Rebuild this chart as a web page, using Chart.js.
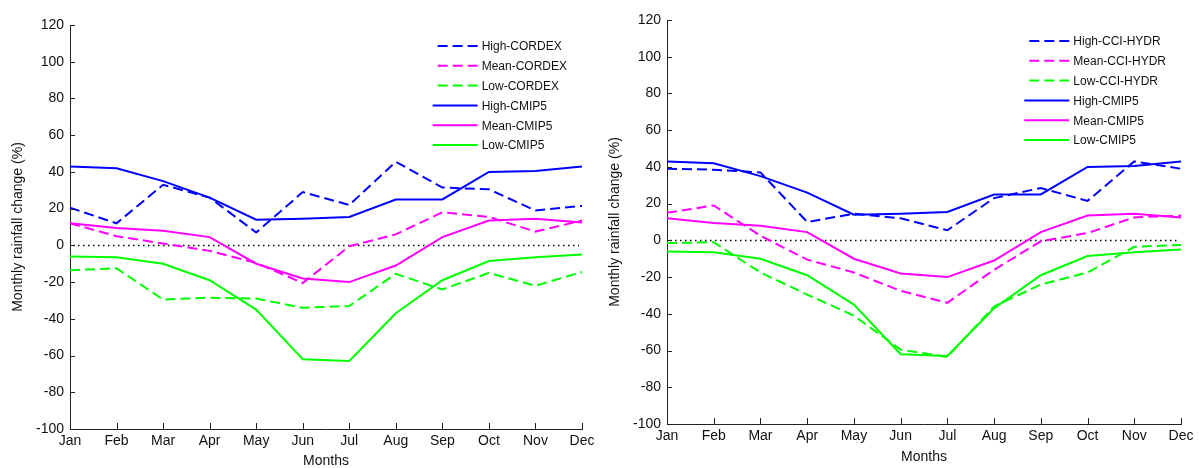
<!DOCTYPE html>
<html>
<head>
<meta charset="utf-8">
<script src="https://cdn.jsdelivr.net/npm/chart.js@4.4.0/dist/chart.umd.min.js"></script>
<style>
  body { margin: 0; background: #fff; }
  #wrap { position: relative; width: 1199px; height: 468px; }
  #cordexChart { position: absolute; left: 0; top: 0; }
  #hydrChart { position: absolute; left: 600px; top: 0; }
</style>
</head>
<body>
<div id="wrap">
  <canvas id="cordexChart" width="600" height="468"></canvas>
  <canvas id="hydrChart" width="599" height="468"></canvas>
</div>
<script>
Chart.defaults.font.family = '"Liberation Sans", Arial, sans-serif';
Chart.defaults.color = '#111';

const months = ['Jan', 'Feb', 'Mar', 'Apr', 'May', 'Jun', 'Jul', 'Aug', 'Sep', 'Oct', 'Nov', 'Dec'];

// CMIP5 envelope (same in both panels)
const highCMIP5 = [43, 42, 35, 26, 14, 14.5, 15.5, 25, 25, 40, 40.5, 43];
const meanCMIP5 = [12, 9.5, 8, 4.5, -10, -18, -20, -11, 4.5, 13.5, 14.5, 12.5];
const lowCMIP5 = [-6, -6.5, -10, -19, -35, -62, -63, -37, -19, -8.5, -6.5, -5];

// CORDEX
const highCORDEX = [20.5, 12, 33, 26, 7, 29, 22, 45.5, 31.5, 30.5, 19, 21.5];
const meanCORDEX = [12, 5, 1, -3, -9.5, -20.5, -0.5, 6, 18, 15.5, 7.5, 13.5];
const lowCORDEX = [-13.5, -12.5, -29.5, -28.5, -29, -34, -33, -15.5, -24, -15, -22, -14.5];

// CCI-HYDR
const highHYDR = [39, 38.5, 37, 10, 14.5, 12, 5.5, 23, 28.5, 21.5, 43, 39];
const meanHYDR = [15, 19, 2.5, -10.5, -17.5, -27.5, -34, -16, -0.5, 4, 12.5, 13.5];
const lowHYDR = [-1.5, -1, -17.5, -29.5, -41, -59.5, -63.5, -36, -24, -17.5, -3.5, -2.5];

const BLUE = '#0000ff', MAGENTA = '#ff00ff', GREEN = '#00ff00';
const DASH = [10, 5];

const line = (label, data, color, dashed) => ({
  label: label,
  data: data,
  borderColor: color,
  backgroundColor: color,
  borderWidth: 2,
  borderDash: dashed ? DASH : [],
  pointRadius: 0,
  tension: 0,
  fill: false
});

// dotted line at zero
const zeroLine = {
  id: 'zeroLine',
  beforeDatasetsDraw(chart) {
    const {ctx, chartArea, scales: {y}} = chart;
    const py = Math.round(y.getPixelForValue(0)) + 0.5;
    ctx.save();
    ctx.strokeStyle = '#000';
    ctx.lineWidth = 1.5;
    ctx.setLineDash([1.5, 3.5]);
    ctx.beginPath();
    ctx.moveTo(chartArea.left + 3, py);
    ctx.lineTo(chartArea.right - 3, py);
    ctx.stroke();
    ctx.restore();
  }
};

// tick marks pointing into the plot
const inwardTicks = {
  id: 'inwardTicks',
  afterDatasetsDraw(chart) {
    const {ctx, chartArea, scales: {x, y}} = chart;
    ctx.save();
    ctx.strokeStyle = '#222';
    ctx.lineWidth = 1;
    ctx.beginPath();
    x.ticks.forEach((t, i) => {
      const px = Math.round(x.getPixelForTick(i)) + 0.5;
      ctx.moveTo(px, chartArea.bottom);
      ctx.lineTo(px, chartArea.bottom - 6);
    });
    y.ticks.forEach((t, i) => {
      const py = Math.round(y.getPixelForTick(i)) + 0.5;
      ctx.moveTo(chartArea.left, py);
      ctx.lineTo(chartArea.left + 5, py);
    });
    ctx.stroke();
    ctx.restore();
  }
};

// legend drawn inside the top right corner of the plot
const insetLegend = {
  id: 'insetLegend',
  afterDraw(chart) {
    const {ctx, chartArea} = chart;
    const sets = chart.data.datasets;
    ctx.save();
    ctx.font = '12px "Liberation Sans", Arial, sans-serif';
    const textW = Math.max(...sets.map(d => ctx.measureText(d.label).width));
    const tx = chartArea.right - 15 - textW;
    sets.forEach((d, i) => {
      const cy = chartArea.top + 21 + i * 19.8;
      ctx.strokeStyle = d.borderColor;
      ctx.lineWidth = 2;
      ctx.setLineDash(d.borderDash);
      ctx.beginPath();
      ctx.moveTo(d.borderDash.length ? tx - 44 : tx - 49, cy);
      ctx.lineTo(tx - 4, cy);
      ctx.stroke();
      ctx.fillStyle = '#111';
      ctx.textBaseline = 'middle';
      ctx.textAlign = 'left';
      ctx.fillText(d.label, tx, cy + 1);
    });
    ctx.restore();
  }
};

const makeChart = (canvasId, datasets, geom) => new Chart(document.getElementById(canvasId), {
  type: 'line',
  data: { labels: months, datasets: datasets },
  options: {
    responsive: false,
    animation: false,
    layout: { padding: { top: geom.top, right: 18, left: 0, bottom: 0 } },
    plugins: { legend: { display: false }, tooltip: { enabled: false } },
    scales: {
      x: {
        offset: false,
        grid: { display: false, drawTicks: false },
        border: { display: true, color: '#222', width: 1 },
        ticks: { padding: 4, maxRotation: 0, autoSkip: false, font: { size: 14 } },
        title: { display: true, text: 'Months', font: { size: 14, lineHeight: 1 }, padding: { top: 0, bottom: geom.xTitlePad } },
        afterFit: (scale) => { scale.height = geom.xHeight; }
      },
      y: {
        min: -100,
        max: 120,
        grid: { display: false, drawTicks: false },
        border: { display: true, color: '#222', width: 1 },
        ticks: { stepSize: 20, padding: 6, font: { size: 14 } },
        title: { display: true, text: 'Monthly rainfall change (%)', font: { size: 14, lineHeight: 1 }, padding: { top: geom.yTitlePad, bottom: 0 } },
        afterFit: (scale) => { scale.width = geom.yWidth; }
      }
    }
  },
  plugins: [zeroLine, inwardTicks, insetLegend]
});

makeChart('cordexChart', [
  line('High-CORDEX', highCORDEX, BLUE, true),
  line('Mean-CORDEX', meanCORDEX, MAGENTA, true),
  line('Low-CORDEX', lowCORDEX, GREEN, true),
  line('High-CMIP5', highCMIP5, BLUE, false),
  line('Mean-CMIP5', meanCMIP5, MAGENTA, false),
  line('Low-CMIP5', lowCMIP5, GREEN, false)
], { top: 25, xHeight: 39, yWidth: 70, xTitlePad: 0, yTitlePad: 11 });

makeChart('hydrChart', [
  line('High-CCI-HYDR', highHYDR, BLUE, true),
  line('Mean-CCI-HYDR', meanHYDR, MAGENTA, true),
  line('Low-CCI-HYDR', lowHYDR, GREEN, true),
  line('High-CMIP5', highCMIP5, BLUE, false),
  line('Mean-CMIP5', meanCMIP5, MAGENTA, false),
  line('Low-CMIP5', lowCMIP5, GREEN, false)
], { top: 20, xHeight: 44, yWidth: 67, xTitlePad: 4, yTitlePad: 8 });
</script>
</body>
</html>
